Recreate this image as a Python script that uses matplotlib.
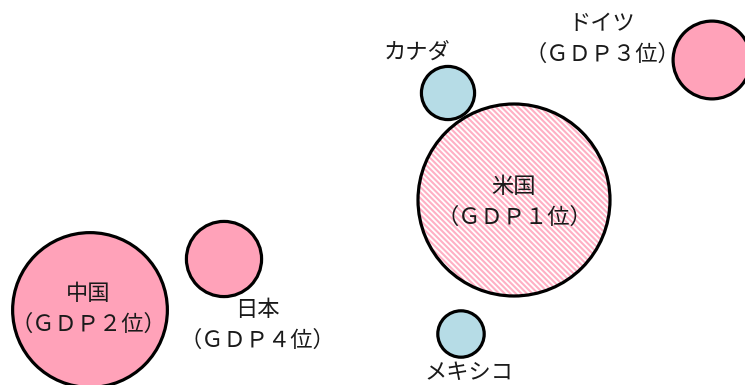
import matplotlib
matplotlib.use("Agg")
import matplotlib.pyplot as plt
from matplotlib.patches import Circle
import numpy as np

plt.rcParams['font.family'] = ['Noto Sans CJK JP', 'DejaVu Sans']
plt.rcParams['hatch.linewidth'] = 1.5

# Countries, GDP (trillion USD) and bubble positions (layout in pixel space)
countries = ["米国", "中国", "ドイツ", "日本", "カナダ", "メキシコ"]
gdp = [27.4, 17.8, 4.5, 4.2, 2.1, 1.6]
cx = [514, 90, 712, 224, 448, 461]
cy = [200, 310, 60, 259, 93, 334]
labels = ["米国\n（ＧＤＰ１位）", "中国\n（ＧＤＰ２位）", "ドイツ\n（ＧＤＰ３位）",
          "日本\n（ＧＤＰ４位）", "カナダ", "メキシコ"]
label_x = [514, 88, 602, 257, 417, 469]
label_y = [202, 309, 39, 325, 52, 372]
kinds = ["hatch", "pink", "pink", "pink", "blue", "blue"]

PINK = "#FFA2B9"
BLUE = "#B6DCE6"
HATCH = "#FFB0C4"
max_r = 96

fig = plt.figure(figsize=(7.45, 3.85), dpi=100)
ax = fig.add_axes([0, 0, 1, 1])
ax.set_xlim(0, 745)
ax.set_ylim(385, 0)
ax.set_aspect('equal')
ax.axis('off')

for name, g, x, y, kind in zip(countries, gdp, cx, cy, kinds):
    r = max_r * np.sqrt(g / max(gdp))
    if kind == "hatch":
        ax.add_patch(Circle((x, y), r, facecolor="white", edgecolor=HATCH,
                            hatch="\\" * 6, linewidth=0, zorder=2))
        ax.add_patch(Circle((x, y), r, fill=False, edgecolor="black",
                            linewidth=2.3, zorder=3))
    else:
        ax.add_patch(Circle((x, y), r, facecolor=PINK if kind == "pink" else BLUE,
                            edgecolor="black", linewidth=2.3, zorder=3))

for lab, x, y in zip(labels, label_x, label_y):
    ax.text(x, y, lab, ha="center", va="center", fontsize=16,
            color="#1a1a1a", linespacing=1.42, zorder=5)

fig.savefig("out.png", dpi=100)
